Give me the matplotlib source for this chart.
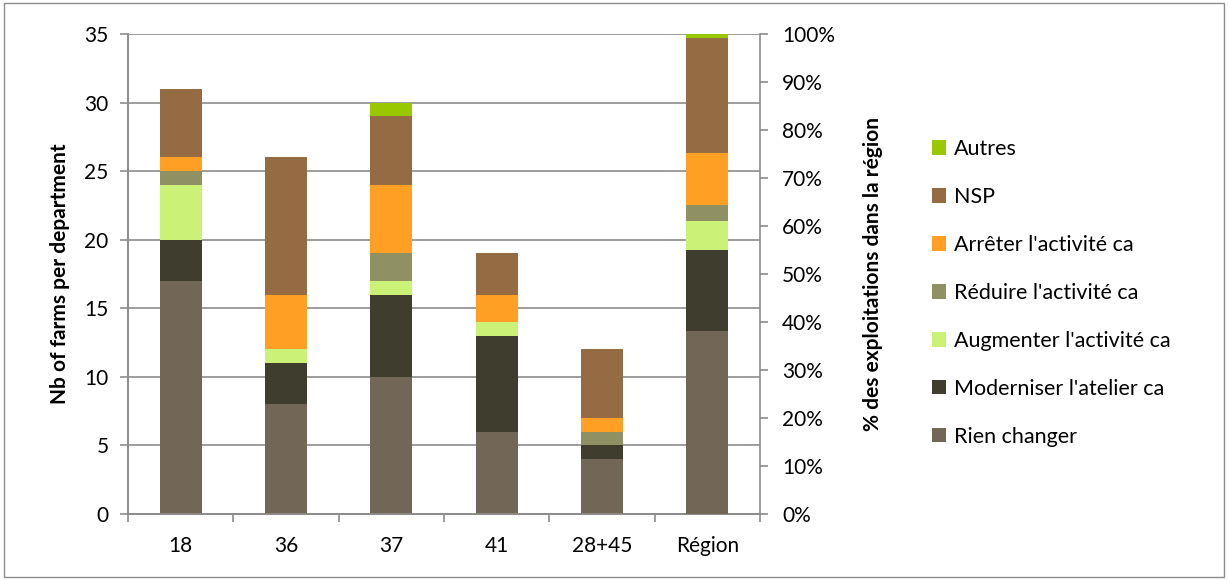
import numpy as np
import matplotlib.pyplot as plt
from matplotlib.patches import Rectangle

plt.rcParams['font.family'] = ['Lato', 'DejaVu Sans']

departments = ['18', '36', '37', '41', '28+45']
region_label = 'Région'

# counts per department (left axis)
rien = [17, 8, 10, 6, 4]
moderniser = [3, 3, 6, 7, 1]
augmenter = [4, 1, 1, 1, 0]
reduire = [1, 0, 2, 0, 1]
arreter = [1, 4, 5, 2, 1]
nsp = [5, 10, 5, 3, 5]
autres = [0, 0, 1, 0, 0]

# region in percent (right axis)
region_pct = [38.1, 16.9, 6.0, 3.3, 11.0, 23.8, 0.8]

series_names = ['Rien changer', "Moderniser l'atelier ca", "Augmenter l'activité ca",
                "Réduire l'activité ca", "Arrêter l'activité ca", 'NSP', 'Autres']
colors = ['#726756', '#3f3d2e', '#cbf277', '#8f9163', '#ffa024', '#956b43', '#99c800']
dept_series = [rien, moderniser, augmenter, reduire, arreter, nsp, autres]

fig = plt.figure(figsize=(12.28, 5.8), dpi=100)
fig.patches.append(Rectangle((0.003, 0.005), 0.994, 0.99, transform=fig.transFigure,
                             fill=False, edgecolor='#8c8c8c', linewidth=1))
ax = fig.add_axes([0.1042, 0.1138, 0.5147, 0.8276])
ax2 = ax.twinx()

x = np.arange(len(departments))
w = 0.4
bottom = np.zeros(len(departments))
for vals, c, name in zip(dept_series, colors, series_names):
    ax.bar(x, vals, w, bottom=bottom, color=c, label=name, zorder=3)
    bottom += np.array(vals)

rb = 0
for v, c in zip(region_pct, colors):
    ax2.bar(len(departments), v, w, bottom=rb, color=c, zorder=3)
    rb += v

ax.set_xlim(-0.5, 5.5)
ax.set_ylim(0, 35)
ax2.set_ylim(0, 100)
ax.set_yticks(range(0, 36, 5))
ax2.set_yticks(range(0, 101, 10))
ax2.set_yticklabels([f'{p}%' for p in range(0, 101, 10)])
ax.set_xticks(list(x) + [len(departments)])
ax.set_xticklabels(departments + [region_label])
ax.set_xticks(np.arange(-0.5, 6.0, 1), minor=True)
ax.tick_params(axis='x', which='major', length=0, pad=16, labelsize=15)
ax.tick_params(axis='x', which='minor', length=6, color='#8c8c8c', width=1.2)
ax.tick_params(axis='y', length=6, color='#8c8c8c', width=1.2, labelsize=15, pad=8)
ax2.tick_params(axis='y', length=6, color='#8c8c8c', width=1.2, labelsize=15, pad=10)

ax.grid(axis='y', color='#8c8c8c', linewidth=1.2, zorder=0)
ax.set_axisbelow(True)
for a in (ax, ax2):
    a.spines['top'].set_visible(False)
    for s in ('left', 'right', 'bottom'):
        a.spines[s].set_color('#8c8c8c')
        a.spines[s].set_linewidth(1.2)
ax.spines['right'].set_visible(False)

ax.set_ylabel('Nb of farms per department', fontsize=15, fontweight='bold', labelpad=10)
ax2.set_ylabel('% des exploitations dans la région', fontsize=15, fontweight='bold', labelpad=20)

handles, labels = ax.get_legend_handles_labels()
leg = fig.legend(handles[::-1], labels[::-1], loc='center left', bbox_to_anchor=(0.743, 0.495),
                 frameon=False, fontsize=15.5, labelspacing=1.3, handlelength=0.65,
                 handleheight=0.65, handletextpad=0.4)

fig.savefig('out.png', dpi=100)
